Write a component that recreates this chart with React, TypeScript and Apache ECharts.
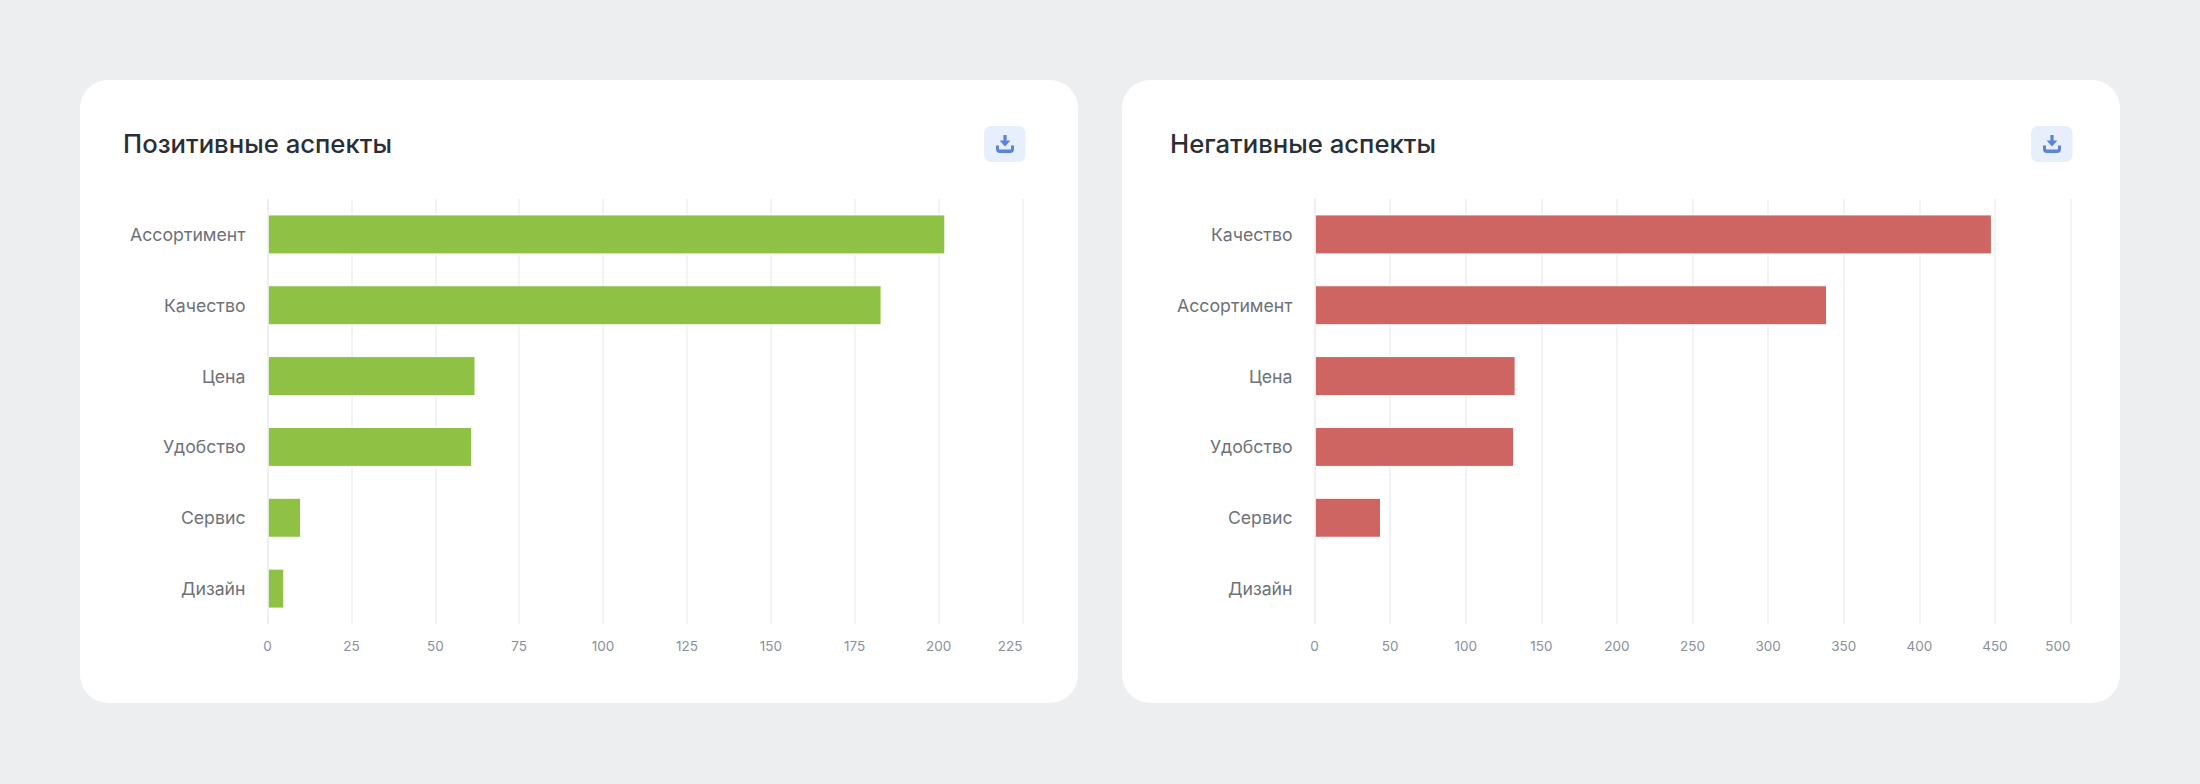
import React, { useEffect, useRef } from "react";
import * as echarts from "echarts";

const leftTitle = "Позитивные аспекты";
const rightTitle = "Негативные аспекты";
const leftCategories = ["Ассортимент", "Качество", "Цена", "Удобство", "Сервис", "Дизайн"];
const rightCategories = ["Качество", "Ассортимент", "Цена", "Удобство", "Сервис", "Дизайн"];
const leftValues = [202, 183, 62, 61, 10, 5];
const rightValues = [448, 339, 133, 132, 44, 0];

const FONT = "Inter";
const ICON =
  "M7.4 0 H10.6 V5.6 H14.4 L9 11.6 L3.6 5.6 H7.4 Z M0 10.4 H3 V13.4 Q3 14.6 4.2 14.6 H13.8 Q15 14.6 15 13.4 V10.4 H18 V14 Q18 18 14 18 H4 Q0 18 0 14 Z";
echarts.graphic.registerShape("dlIcon", echarts.graphic.extendPath(ICON, {}) as any);

function card(x: number, title: string, offset: number) {
  return [
    { type: "rect", z: -10, shape: { x, y: 80, width: 998, height: 623, r: 28 }, style: { fill: "#ffffff" } },
    {
      type: "text", z: 5, x: x + 43 + offset, y: 143.5,
      style: { text: title, fill: "#2a2e36", font: `500 25.7px ${FONT}`, textVerticalAlign: "middle" },
    },
    { type: "rect", z: 5, shape: { x: x + 904 + offset, y: 126, width: 41.5, height: 36, r: 7 }, style: { fill: "#e8effc" } },
    { type: "dlIcon", z: 6, x: x + 916 + offset, y: 135, style: { fill: "#5b84d6" } },
  ];
}

const barData = (values: number[]) =>
  values.map((value) => (value === 0 ? { value, itemStyle: { borderWidth: 0 } } : { value }));

export default function App() {
  const ref = useRef<HTMLDivElement>(null);
  useEffect(() => {
    document.body.style.margin = "0";
    const chart = echarts.init(ref.current!, undefined, { renderer: "svg" });
    const xAxis = (gridIndex: number, max: number, interval: number) => ({
      type: "value" as const,
      gridIndex,
      min: 0,
      max,
      interval,
      axisLine: { show: false },
      axisTick: { show: false },
      axisLabel: { color: "#8a8f99", fontFamily: FONT, fontSize: 13.5, margin: 15, alignMaxLabel: "right" },
      splitLine: { show: true, lineStyle: { color: "#eeeff1", width: 1.5 } },
    });
    const yAxis = (gridIndex: number, data: string[]) => ({
      type: "category" as const,
      gridIndex,
      data,
      inverse: true,
      z: 3,
      axisLine: { show: true, lineStyle: { color: "#eeeff1", width: 1.5 } },
      axisTick: { show: false },
      axisLabel: { color: "#6e7178", fontFamily: FONT, fontSize: 17.7, margin: 22 },
      splitLine: { show: false },
    });
    const bar = (idx: number, values: number[], color: string) => ({
      type: "bar" as const,
      xAxisIndex: idx,
      yAxisIndex: idx,
      data: barData(values),
      barWidth: 40,
      itemStyle: { color, borderColor: "#ffffff", borderWidth: 1 },
    });
    chart.setOption({
      animation: false,
      backgroundColor: "#edeef0",
      grid: [
        { left: 267.5, top: 199, width: 755, height: 425 },
        { left: 1314.5, top: 199, width: 756, height: 425 },
      ],
      xAxis: [xAxis(0, 225, 25), xAxis(1, 500, 50)],
      yAxis: [yAxis(0, leftCategories), yAxis(1, rightCategories)],
      series: [bar(0, leftValues, "#8fc144"), bar(1, rightValues, "#cf6562")],
      graphic: { elements: [...card(80, leftTitle, 0), ...card(1122, rightTitle, 5)] },
    });
    return () => chart.dispose();
  }, []);
  return <div ref={ref} style={{ width: 2200, height: 784 }} />;
}
